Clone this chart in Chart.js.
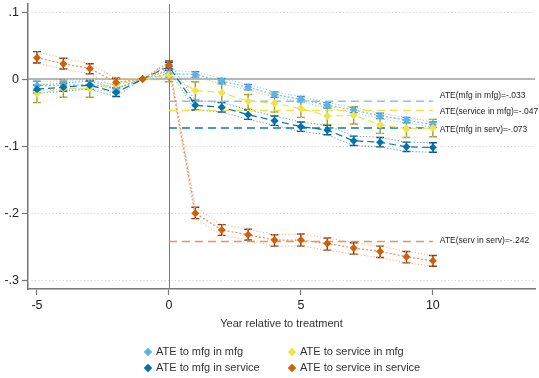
<!DOCTYPE html>
<html><head><meta charset="utf-8">
<script src="https://cdn.jsdelivr.net/npm/chart.js@4"></script>
<style>
html,body{margin:0;padding:0;background:#fff;}
#wrap{position:relative;width:539px;height:378px;overflow:hidden;}
canvas{position:absolute;left:0;top:0;}
.leg{position:absolute;font:11px "Liberation Sans",Arial,sans-serif;color:#333;white-space:nowrap;line-height:13px;}
.leg i{position:absolute;left:-11px;top:3.5px;width:6px;height:6px;transform:rotate(45deg);}
</style></head><body>
<div id="wrap"><canvas id="c" width="539" height="378"></canvas><div id="legend"></div></div>
<script>
// ---- data ----
const years = [-5,-4,-3,-2,-1,0,1,2,3,4,5,6,7,8,9,10];
const xTicks = [-5,0,5,10];
const yTicks = [0.1,0,-0.1,-0.2,-0.3];
const yTickLabels = [".1","0","-.1","-.2","-.3"];

const legendLabels = ["ATE to mfg in mfg","ATE to service in mfg","ATE to mfg in service","ATE to service in service"];

// ATE to mfg in mfg
const mfgMfg   = [-0.010,-0.009,-0.008,-0.014,0,0.008,0.007,-0.003,-0.012,-0.023,-0.030,-0.039,-0.046,-0.055,-0.061,-0.068];
const mfgMfgLo = [-0.017,-0.015,-0.014,-0.020,0,0.003,0.003,-0.007,-0.016,-0.027,-0.034,-0.043,-0.050,-0.059,-0.065,-0.072];
const mfgMfgHi = [-0.003,-0.003,-0.002,-0.008,0,0.013,0.011,0.001,-0.008,-0.019,-0.026,-0.035,-0.042,-0.051,-0.057,-0.064];
// ATE to service in mfg
const srvMfg   = [-0.022,-0.014,-0.014,-0.008,0,0.006,-0.017,-0.020,-0.033,-0.036,-0.044,-0.055,-0.054,-0.068,-0.074,-0.073];
const srvMfgLo = [-0.035,-0.027,-0.027,-0.018,0,-0.004,-0.032,-0.034,-0.045,-0.049,-0.057,-0.068,-0.067,-0.081,-0.087,-0.086];
const srvMfgHi = [-0.009,-0.001,-0.001,0.002,0,0.016,-0.004,-0.005,-0.023,-0.023,-0.031,-0.042,-0.041,-0.055,-0.061,-0.060];
// ATE to mfg in service
const mfgSrv   = [-0.015,-0.012,-0.009,-0.020,0,0.019,-0.039,-0.042,-0.053,-0.062,-0.071,-0.076,-0.092,-0.094,-0.101,-0.102];
const mfgSrvLo = [-0.021,-0.018,-0.015,-0.026,0,0.013,-0.046,-0.049,-0.060,-0.069,-0.078,-0.083,-0.099,-0.101,-0.108,-0.109];
const mfgSrvHi = [-0.009,-0.006,-0.003,-0.014,0,0.025,-0.032,-0.035,-0.046,-0.055,-0.064,-0.069,-0.085,-0.087,-0.094,-0.095];
// ATE to service in service
const srvSrv   = [0.032,0.023,0.016,-0.005,0,0.021,-0.200,-0.225,-0.232,-0.240,-0.240,-0.245,-0.252,-0.257,-0.265,-0.271];
const srvSrvLo = [0.024,0.015,0.008,-0.013,0,0.015,-0.208,-0.233,-0.240,-0.249,-0.249,-0.255,-0.261,-0.266,-0.274,-0.279];
const srvSrvHi = [0.041,0.031,0.023,0.001,0,0.027,-0.191,-0.217,-0.224,-0.232,-0.231,-0.237,-0.244,-0.249,-0.257,-0.263];

const ateValues = [-0.033,-0.047,-0.073,-0.242];
const ateLabels = ["ATE(mfg in mfg)=-.033","ATE(service in mfg)=-.047","ATE(mfg in serv)=-.073","ATE(serv in serv)=-.242"];
const ateFrom = 0, ateTo = 10;

// ---- styles ----
const FONT = '"Liberation Sans", Arial, sans-serif';
const series = [
  {v:mfgMfg, lo:mfgMfgLo, hi:mfgMfgHi, color:'#56B4E9', line:'#74bfec', bar:'#3f86b8', ci:'#8fcaf0', lineDash:[2,2], ate:'#86c4ec', labOff:-5.5},
  {v:srvMfg, lo:srvMfgLo, hi:srvMfgHi, color:'#F0E442', line:'#F0E442', bar:'#9d9a3a', ci:'#f3ec8a', lineDash:[7,4], ate:'#F0E442', labOff:1},
  {v:mfgSrv, lo:mfgSrvLo, hi:mfgSrvHi, color:'#0072B2', line:'#0072B2', bar:'#0b4f7a', ci:'#4b9bd0', lineDash:[7,4], ate:'#0a78b8', labOff:1.5},
  {v:srvSrv, lo:srvSrvLo, hi:srvSrvHi, color:'#D55E00', line:'#ea9058', bar:'#8a3c12', ci:'#f2b088', lineDash:[2,2], ate:'#e8915a', labOff:-1}
];

const pts = arr => years.map((yr,i)=>({x:yr,y:arr[i]}));
const datasets = [];
series.forEach((s,k)=>{
  datasets.push({data:pts(s.hi), borderColor:s.ci, borderWidth:1, borderDash:[1.2,2], pointRadius:0, fill:false, order:10-k});
  datasets.push({data:pts(s.lo), borderColor:s.ci, borderWidth:1, borderDash:[1.2,2], pointRadius:0, fill:false, order:10-k});
});
series.forEach((s,k)=>{
  datasets.push({data:[{x:ateFrom,y:ateValues[k]},{x:ateTo,y:ateValues[k]}], borderColor:s.ate, borderWidth:1.5, borderDash:[8,5], pointRadius:0, fill:false, order:6-k});
});
series.forEach((s,k)=>{
  datasets.push({data:pts(s.v), borderColor:s.line, backgroundColor:s.color, borderWidth:1.2, borderDash:s.lineDash,
    pointStyle:'rectRot', pointRadius:4, pointBorderWidth:0, pointBackgroundColor:s.color, fill:false, order:4-k});
});

const refPlugin = {
  id:'ref',
  beforeDatasetsDraw(chart){
    const {ctx, chartArea:a, scales:{x,y}} = chart;
    ctx.save();
    ctx.strokeStyle='#cfcfcf'; ctx.lineWidth=1; ctx.setLineDash([1,2.5]);
    yTicks.forEach(v=>{ if(v===0) return; const py=Math.round(y.getPixelForValue(v))+0.5;
      ctx.beginPath(); ctx.moveTo(a.left,py); ctx.lineTo(a.right,py); ctx.stroke(); });
    ctx.setLineDash([]);
    ctx.strokeStyle='#9c9c9c'; ctx.lineWidth=1.5;
    const p0=y.getPixelForValue(0);
    ctx.beginPath(); ctx.moveTo(a.left,p0); ctx.lineTo(a.right,p0); ctx.stroke();
    ctx.strokeStyle='#7a7a7a'; ctx.lineWidth=1;
    const x0=Math.round(x.getPixelForValue(0))+0.5;
    ctx.beginPath(); ctx.moveTo(x0,a.top); ctx.lineTo(x0,a.bottom); ctx.stroke();
    // error bars
    series.forEach(s=>{
      ctx.strokeStyle=s.bar; ctx.lineWidth=1.4;
      years.forEach((yr,i)=>{
        if(s.hi[i]===s.lo[i]) return;
        const px=x.getPixelForValue(yr), t=y.getPixelForValue(s.hi[i]), b=y.getPixelForValue(s.lo[i]);
        ctx.beginPath();
        ctx.moveTo(px,t); ctx.lineTo(px,b);
        ctx.moveTo(px-4,t); ctx.lineTo(px+4,t);
        ctx.moveTo(px-4,b); ctx.lineTo(px+4,b);
        ctx.stroke();
      });
    });
    ctx.restore();
  },
  afterDatasetsDraw(chart){
    const {ctx, scales:{x,y}} = chart;
    ctx.save();
    ctx.font = '8.5px '+FONT; ctx.fillStyle='#222'; ctx.textAlign='left'; ctx.textBaseline='middle';
    series.forEach((s,k)=>{
      ctx.fillText(ateLabels[k], x.getPixelForValue(ateTo)+7, y.getPixelForValue(ateValues[k])+s.labOff);
    });
    ctx.restore();
  }
};

new Chart(document.getElementById('c'), {
  type:'line',
  data:{datasets},
  plugins:[refPlugin],
  options:{
    responsive:false, animation:false, devicePixelRatio:1,
    layout:{padding:{top:4,right:0,left:0,bottom:0}},
    plugins:{legend:{display:false}, tooltip:{enabled:false}},
    elements:{line:{tension:0}},
    scales:{
      x:{type:'linear', position:'bottom', min:-5.34, max:13.87,
        afterBuildTicks:s=>{s.ticks=xTicks.map(v=>({value:v}));},
        afterFit:s=>{s.height=89; s.paddingLeft=0; s.paddingRight=0;},
        grid:{drawOnChartArea:false, drawTicks:true, tickLength:6, tickColor:'#777', tickWidth:1.2},
        border:{display:true, color:'#777', width:1.5},
        ticks:{font:{family:FONT,size:12.5}, color:'#222', padding:3, maxRotation:0, autoSkip:false,
          callback:v=>String(v)},
        title:{display:true, text:'Year relative to treatment', font:{family:FONT,size:11}, color:'#333', padding:{top:0,bottom:47}}
      },
      y:{type:'linear', position:'left', min:-0.313, max:0.112,
        afterBuildTicks:s=>{s.ticks=yTicks.map(v=>({value:v}));},
        afterFit:s=>{s.width=28; s.paddingTop=0; s.paddingBottom=0;},
        grid:{drawOnChartArea:false, drawTicks:true, tickLength:6, tickColor:'#777', tickWidth:1.2},
        border:{display:true, color:'#777', width:1.5},
        ticks:{font:{family:FONT,size:12.5}, color:'#222', padding:3, autoSkip:false,
          callback:(v)=>{const i=yTicks.findIndex(t=>Math.abs(t-v)<1e-9); return i>=0?yTickLabels[i]:'';}}
      }
    }
  }
});

// HTML legend
const legPos = [[156,345],[300,345],[156,361],[300,361]];
const legColors = ['#56B4E9','#F0E442','#0072B2','#D55E00'];
const leg = document.getElementById('legend');
legendLabels.forEach((t,i)=>{
  const d=document.createElement('div'); d.className='leg';
  d.style.left=legPos[i][0]+'px'; d.style.top=legPos[i][1]+'px';
  const m=document.createElement('i'); m.style.background=legColors[i];
  d.appendChild(m); d.appendChild(document.createTextNode(t));
  leg.appendChild(d);
});
</script>
</body></html>
